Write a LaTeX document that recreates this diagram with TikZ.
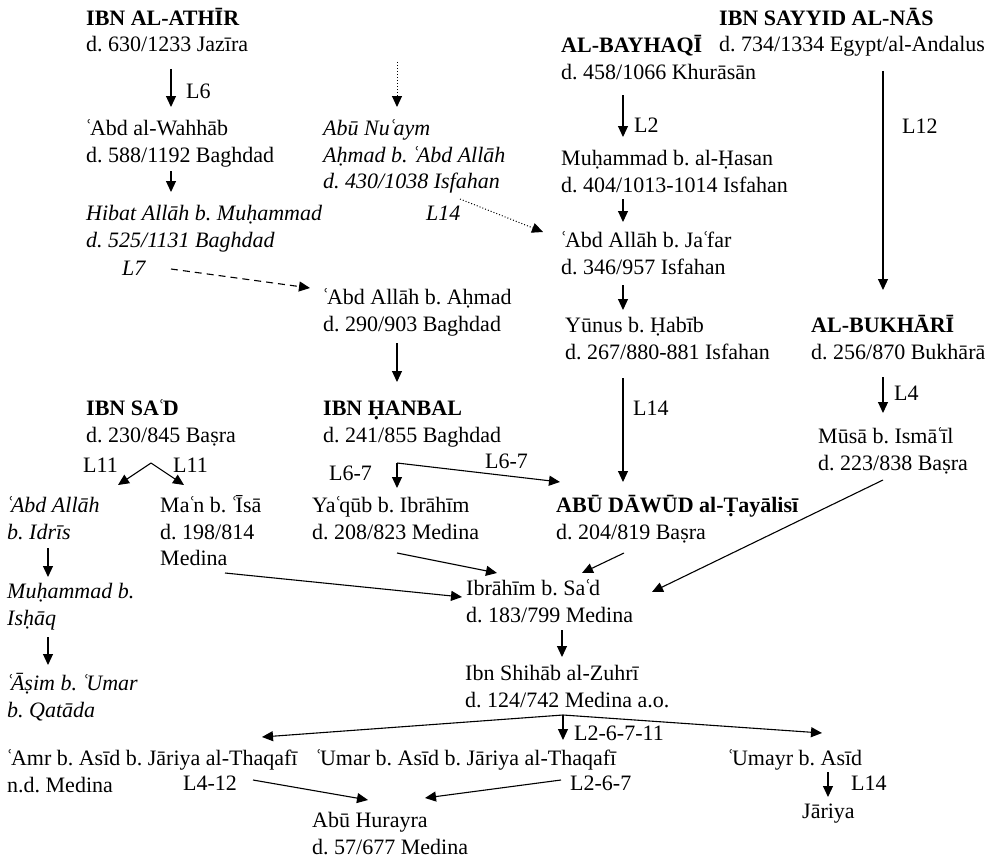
\documentclass[tikz,border=0pt]{standalone}
\usepackage{fontspec}
\setmainfont{Liberation Serif}
\usetikzlibrary{arrows.meta,calc}
\newcommand\pf{\fontsize{22}{26.8}\selectfont\frenchspacing}
\newcommand\linestrut{\rule{0pt}{20pt}}
% ayn with tightened side bearings
\newcommand\ay{\kern-1pt ʿ\kern-2.5pt}
\begin{document}
\begin{tikzpicture}[x=1pt,y=-1pt,
  per/.style={anchor=north west, inner sep=0pt, align=left, font=\pf},
  iper/.style={per, font=\pf\itshape},
  lab/.style={anchor=base west, inner sep=0pt, font=\pf},
  ilab/.style={lab, font=\pf\itshape},
  arr/.style={line width=1.1pt, -{Triangle[length=11pt,width=10pt]}},
  dotarr/.style={arr, line width=1pt, dotted},
  dasharr/.style={arr, dash pattern=on 7pt off 5pt}]
\useasboundingbox (0,0) rectangle (996,859);

% people (north west corner = first baseline - 20)
\node[per] (athir) at (86,5) {\linestrut\textbf{IBN AL-ATHĪR}\\d. 630/1233 Jazīra};
\node[per] (wahhab) at (86,115) {\linestrut\ay Abd al-Wahhāb\\d. 588/1192 Baghdad};
\node[iper] (hibat) at (86,200) {\linestrut Hibat Allāh b. Muḥammad\\d. 525/1131 Baghdad};
\node[iper] (nuaym) at (323,115) {\linestrut Abū Nu\ay aym\\Aḥmad b. \ay Abd Allāh\\d. 430/1038 Isfahan};
\node[per] (ahmad) at (323,284) {\linestrut\ay Abd Allāh b. Aḥmad\\d. 290/903 Baghdad};
\node[per] (sayyid) at (719,5) {\linestrut\textbf{IBN SAYYID AL-NĀS}\\d. 734/1334 Egypt/al-Andalus};
\node[per] (bayhaqi) at (561,32) {\linestrut\textbf{AL-BAYHAQĪ}\\d. 458/1066 Khurāsān};
\node[per] (hasan) at (561,145) {\linestrut Muḥammad b. al-Ḥasan\\d. 404/1013-1014 Isfahan};
\node[per] (jafar) at (561,227) {\linestrut\ay Abd Allāh b. Ja\ay far\\d. 346/957 Isfahan};
\node[per] (yunus) at (565,312) {\linestrut Yūnus b. Ḥabīb\\d. 267/880-881 Isfahan};
\node[per] (bukhari) at (811,312) {\linestrut\textbf{AL-BUKHĀRĪ}\\d. 256/870 Bukhārā};
\node[per] (musa) at (818,423) {\linestrut Mūsā b. Ismā\ay īl\\d. 223/838 Baṣra};
\node[per] (ibnsad) at (86,395) {\linestrut\textbf{IBN SA\ay D}\\d. 230/845 Baṣra};
\node[per] (hanbal) at (323,395) {\linestrut\textbf{IBN ḤANBAL}\\d. 241/855 Baghdad};
\node[iper] (idris) at (7,492) {\linestrut\ay Abd Allāh\\b. Idrīs};
\node[per] (maan) at (160,492) {\linestrut Ma\ay n b. \ay Īsā\\d. 198/814\\Medina};
\node[per] (yaqub) at (312,492) {\linestrut Ya\ay qūb b. Ibrāhīm\\d. 208/823 Medina};
\node[per] (dawud) at (556,492) {\linestrut\textbf{ABŪ DĀWŪD al-Ṭayālisī}\\d. 204/819 Baṣra};
\node[iper] (ishaq) at (7,578) {\linestrut Muḥammad b.\\Isḥāq};
\node[iper] (asim) at (7,670) {\linestrut\ay Āṣim b. \ay Umar\\b. Qatāda};
\node[per] (ibrahim) at (466,575) {\linestrut Ibrāhīm b. Sa\ay d\\d. 183/799 Medina};
\node[per] (zuhri) at (465,660) {\linestrut Ibn Shihāb al-Zuhrī\\d. 124/742 Medina a.o.};
\node[per] (amr) at (7,745) {\linestrut\ay Amr b. Asīd b. Jāriya al-Thaqafī\\n.d. Medina};
\node[per] (umar) at (316,745) {\linestrut\ay Umar b. Asīd b. Jāriya al-Thaqafī};
\node[per] (umayr) at (728,745) {\linestrut\ay Umayr b. Asīd};
\node[per] (jariya) at (802,798) {\linestrut Jāriya};
\node[per] (hurayra) at (312,807) {\linestrut Abū Hurayra\\d. 57/677 Medina};

% line labels
\node[lab] (l6) at (186,99) {L6};
\node[ilab] (l7) at (122,275) {L7};
\node[ilab] (l14a) at (426,220) {L14};
\node[lab] (l2) at (634,132) {L2};
\node[lab] (l12) at (902,133) {L12};
\node[lab] (l4) at (894,400) {L4};
\node[lab] (l14b) at (633,415) {L14};
\node[lab] (l11a) at (83,472) {L11};
\node[lab] (l11b) at (173,472) {L11};
\node[lab] (l67a) at (329,480) {L6-7};
\node[lab] (l67b) at (485,468) {L6-7};
\node[lab] (l26711) at (574,740) {L2-6-7-11};
\node[lab] (l412) at (183,790) {L4-12};
\node[lab] (l267) at (570,790) {L2-6-7};
\node[lab] (l14c) at (851,790) {L14};

% branch points
\coordinate (dotstart) at (397,62);
\coordinate (sadapex) at ($(ibnsad.north west)+(65,68)$);
\coordinate (hanapex) at ($(hanbal.north west)+(74,68)$);
\coordinate (zapex) at ($(zuhri.north west)+(98,55)$);

% connectors
\draw[arr] ($(athir.north west)+(85,64)$) -- ($(wahhab.north west)+(85,-8)$);
\draw[dotarr] (dotstart) -- ($(nuaym.north west)+(74,-8)$);
\draw[arr] ($(wahhab.north west)+(85,56)$) -- ($(hibat.north west)+(85,-8)$);
\draw[dasharr] ($(hibat.north west)+(85,69)$) -- ($(ahmad.north west)+(-13,4)$);
\draw[dotarr] ($(nuaym.north west)+(137,84)$) -- ($(jafar.north west)+(-18,5)$);
\draw[arr] ($(ahmad.north west)+(74,59)$) -- ($(hanbal.north west)+(74,-13)$);
\draw[arr] ($(bayhaqi.north west)+(62,63)$) -- ($(hasan.north west)+(62,-8)$);
\draw[arr] ($(hasan.north west)+(62,54)$) -- ($(jafar.north west)+(62,-5)$);
\draw[arr] ($(jafar.north west)+(62,58)$) -- ($(yunus.north west)+(58,-2)$);
\draw[arr] ($(sayyid.north west)+(164,66)$) -- ($(bukhari.north west)+(72,-22)$);
\draw[arr] ($(bukhari.north west)+(72,65)$) -- ($(musa.north west)+(65,-10)$);
\draw[arr] ($(yunus.north west)+(58,66)$) -- ($(dawud.north west)+(67,-10)$);
\draw[arr] (sadapex) -- ($(idris.north west)+(111,-7)$);
\draw[arr] (sadapex) -- ($(maan.north west)+(24,-7)$);
\draw[arr] (hanapex) -- ($(yaqub.north west)+(85,-4)$);
\draw[arr] (hanapex) -- ($(dawud.north west)+(4,-10)$);
\draw[arr] ($(idris.north west)+(41,56)$) -- ($(ishaq.north west)+(41,-1)$);
\draw[arr] ($(ishaq.north west)+(41,59)$) -- ($(asim.north west)+(41,-5)$);
\draw[arr] ($(maan.north west)+(65,81)$) -- ($(ibrahim.north west)+(-4,22)$);
\draw[arr] ($(yaqub.north west)+(85,61)$) -- ($(ibrahim.north west)+(31,-2)$);
\draw[arr] ($(dawud.north west)+(68,61)$) -- ($(ibrahim.north west)+(116,-2)$);
\draw[arr] ($(musa.north west)+(65,57)$) -- ($(ibrahim.north west)+(186,17)$);
\draw[arr] ($(ibrahim.north west)+(96,55)$) -- ($(zuhri.north west)+(97,-3)$);
\draw[arr] (zapex) -- ($(amr.north west)+(255,-8)$);
\draw[arr] (zapex) -- ($(umar.north west)+(247,-5)$);
\draw[arr] (zapex) -- ($(umayr.north west)+(94,-12)$);
\draw[arr] ($(amr.north west)+(246,35)$) -- ($(hurayra.north west)+(56,-7)$);
\draw[arr] ($(umar.north west)+(245,35)$) -- ($(hurayra.north west)+(113,-9)$);
\draw[arr] ($(umayr.north west)+(100,27)$) -- ($(jariya.north west)+(26,-1)$);
\end{tikzpicture}
\end{document}
